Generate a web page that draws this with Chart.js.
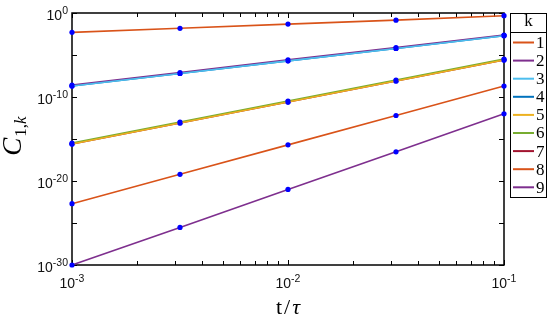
<!DOCTYPE html>
<html><head><meta charset="utf-8">
<script src="https://cdn.jsdelivr.net/npm/chart.js@4/dist/chart.umd.min.js"></script>
<style>html,body{margin:0;padding:0;background:#fff}</style>
</head><body>
<canvas id="c" width="550" height="330"></canvas>
<script>
// ---- data ----
const tValues = [1e-3, 3.162e-3, 1e-2, 3.162e-2, 1e-1];
const kLabels = ['1','2','3','4','5','6','7','8','9'];
const c1k1 = [5.0e-3, 1.5e-2, 4.8e-2, 1.4e-1, 4.8e-1];
const c1k2 = [2.6e-9, 8.2e-8, 2.6e-6, 7.8e-5, 2.4e-3];
const c1k3 = [2.0e-9, 6.3e-8, 2.0e-6, 6.0e-5, 2.0e-3];
const c1k4 = [2.0e-9, 6.3e-8, 2.0e-6, 6.0e-5, 2.0e-3];
const c1k5 = [2.5e-16, 8.0e-14, 2.5e-11, 8.0e-9, 2.5e-6];
const c1k6 = [3.3e-16, 1.05e-13, 3.3e-11, 1.05e-8, 3.3e-6];
const c1k7 = [2.5e-16, 8.0e-14, 2.5e-11, 8.0e-9, 2.5e-6];
const c1k8 = [2.0e-23, 6.3e-20, 2.0e-16, 6.3e-13, 2.0e-9];
const c1k9 = [1.0e-30, 3.0e-26, 1.0e-21, 3.0e-17, 1.0e-12];
const xTickExps = [-3, -2, -1];
const yTickExps = [0, -10, -20, -30];

const seriesValues = [c1k1, c1k2, c1k3, c1k4, c1k5, c1k6, c1k7, c1k8, c1k9];
const seriesColors = ['#D95319','#7E2F8E','#4DBEEE','#0072BD','#EDB120','#77AC30','#A2142F','#D95319','#7E2F8E'];
// drawing order (lower = on top)
const seriesOrder = [0, 3, 1, 4, 2, 5, 6, 7, 8];

const datasets = seriesValues.map((vals, i) => ({
  label: kLabels[i],
  data: vals.map((v, j) => ({x: tValues[j], y: v})),
  showLine: true,
  order: seriesOrder[i],
  borderColor: seriesColors[i],
  backgroundColor: seriesColors[i],
  borderWidth: 1.6,
  pointRadius: 2.6,
  pointBackgroundColor: '#0000FF',
  pointBorderColor: '#0000FF',
  pointBorderWidth: 0,
  clip: false
}));

const SANS = '"Liberation Sans", Arial, sans-serif';
const SERIF = '"Liberation Serif", "DejaVu Serif", serif';

function supLabel(ctx, base, exp, x, y, align, baseFont, expFont, expRise) {
  ctx.font = baseFont;
  const wb = ctx.measureText(base).width;
  ctx.font = expFont;
  const we = ctx.measureText(exp).width;
  const w = wb + we;
  let x0 = align === 'right' ? x - w : (align === 'center' ? x - w / 2 : x);
  ctx.textAlign = 'left';
  ctx.textBaseline = 'alphabetic';
  ctx.font = baseFont;
  ctx.fillText(base, x0, y);
  ctx.font = expFont;
  ctx.fillText(exp, x0 + wb, y - expRise);
}

const framePlugin = {
  id: 'frame',
  beforeDatasetsDraw(chart) {
    const {ctx, chartArea: a, scales: {x, y}} = chart;
    ctx.save();
    ctx.strokeStyle = '#000';
    ctx.lineWidth = 1.5;
    ctx.strokeRect(a.left, a.top, a.right - a.left, a.bottom - a.top);
    ctx.lineWidth = 1;
    ctx.beginPath();
    for (let d = -3; d <= -1; d++) {
      for (let m = 1; m <= 9; m++) {
        const v = m * Math.pow(10, d);
        if (v > 0.1001) break;
        const px = Math.round(x.getPixelForValue(v)) + 0.5;
        const len = m === 1 ? 5 : 4;
        ctx.moveTo(px, a.bottom); ctx.lineTo(px, a.bottom - len);
        ctx.moveTo(px, a.top); ctx.lineTo(px, a.top + len);
      }
    }
    for (let e = 0; e >= -30; e -= 5) {
      const py = Math.round(y.getPixelForValue(Math.pow(10, e))) + 0.5;
      ctx.moveTo(a.left, py); ctx.lineTo(a.left + 5, py);
      ctx.moveTo(a.right, py); ctx.lineTo(a.right - 5, py);
    }
    ctx.stroke();
    ctx.fillStyle = '#111';
    const bf = '14px ' + SANS, ef = '10.5px ' + SANS;
    yTickExps.forEach(e => {
      const py = y.getPixelForValue(Math.pow(10, e));
      supLabel(ctx, '10', String(e), a.left - 4, py + 7, 'right', bf, ef, 6);
    });
    xTickExps.forEach(e => {
      const px = x.getPixelForValue(Math.pow(10, e));
      supLabel(ctx, '10', String(e), px, a.bottom + 23, 'center', bf, ef, 6);
    });
    ctx.fillStyle = '#000';
    const cx = (a.left + a.right) / 2;
    ctx.textBaseline = 'alphabetic';
    ctx.textAlign = 'left';
    ctx.font = '22px ' + SERIF;
    const tw = ctx.measureText('t').width;
    const sw = ctx.measureText('/').width;
    ctx.font = 'italic 22px ' + SERIF;
    const uw = ctx.measureText('τ').width;
    const gap = 2;
    let sx = cx - (tw + sw + uw + 2 * gap) / 2;
    ctx.font = '22px ' + SERIF;
    ctx.fillText('t', sx, 314); sx += tw + gap;
    ctx.fillText('/', sx, 314); sx += sw + gap;
    ctx.font = 'italic 22px ' + SERIF;
    ctx.fillText('τ', sx, 314);
    ctx.save();
    ctx.translate(21, 136);
    ctx.rotate(-Math.PI / 2);
    ctx.font = 'italic 27px ' + SERIF;
    const cw = ctx.measureText('C').width;
    ctx.font = '17px ' + SERIF;
    const w1 = ctx.measureText('1,').width;
    ctx.font = 'italic 17px ' + SERIF;
    const wk = ctx.measureText('k').width;
    const total = cw + 1 + w1 + wk;
    let yx = -total / 2;
    ctx.font = 'italic 27px ' + SERIF;
    ctx.fillText('C', yx, 0); yx += cw + 1;
    ctx.font = '17px ' + SERIF;
    ctx.fillText('1,', yx, 5); yx += w1;
    ctx.font = 'italic 17px ' + SERIF;
    ctx.fillText('k', yx, 5);
    ctx.restore();
    ctx.restore();
  },
  afterDraw(chart) {
    const {ctx} = chart;
    const L = 510, T = 13, R = 546, B = 197;
    ctx.save();
    ctx.fillStyle = '#fff';
    ctx.fillRect(L, T, R - L, B - T);
    ctx.strokeStyle = '#000';
    ctx.lineWidth = 1;
    ctx.strokeRect(L + 0.5, T + 0.5, R - L, B - T);
    ctx.beginPath();
    ctx.moveTo(L, 32.5); ctx.lineTo(R, 32.5);
    ctx.stroke();
    ctx.fillStyle = '#000';
    ctx.font = '17px ' + SERIF;
    ctx.textAlign = 'center';
    ctx.textBaseline = 'middle';
    ctx.fillText('k', (L + R) / 2 + 0.5, 22);
    ctx.textAlign = 'left';
    chart.data.datasets.forEach((ds, i) => {
      const yy = 42.5 + i * 18.1;
      ctx.strokeStyle = ds.borderColor;
      ctx.lineWidth = 2;
      ctx.beginPath();
      ctx.moveTo(513, yy); ctx.lineTo(534, yy);
      ctx.stroke();
      ctx.fillText(ds.label, 536, yy + 1);
    });
    ctx.restore();
  }
};

new Chart(document.getElementById('c'), {
  type: 'scatter',
  data: {datasets},
  options: {
    responsive: false,
    animation: false,
    layout: {padding: {left: 72, top: 13, right: 46, bottom: 65}},
    plugins: {legend: {display: false}, tooltip: {enabled: false}},
    scales: {
      x: {type: 'logarithmic', min: 1e-3, max: 1e-1, display: false},
      y: {type: 'logarithmic', min: 1e-30, max: 1, display: false}
    }
  },
  plugins: [framePlugin]
});
</script>
</body></html>
